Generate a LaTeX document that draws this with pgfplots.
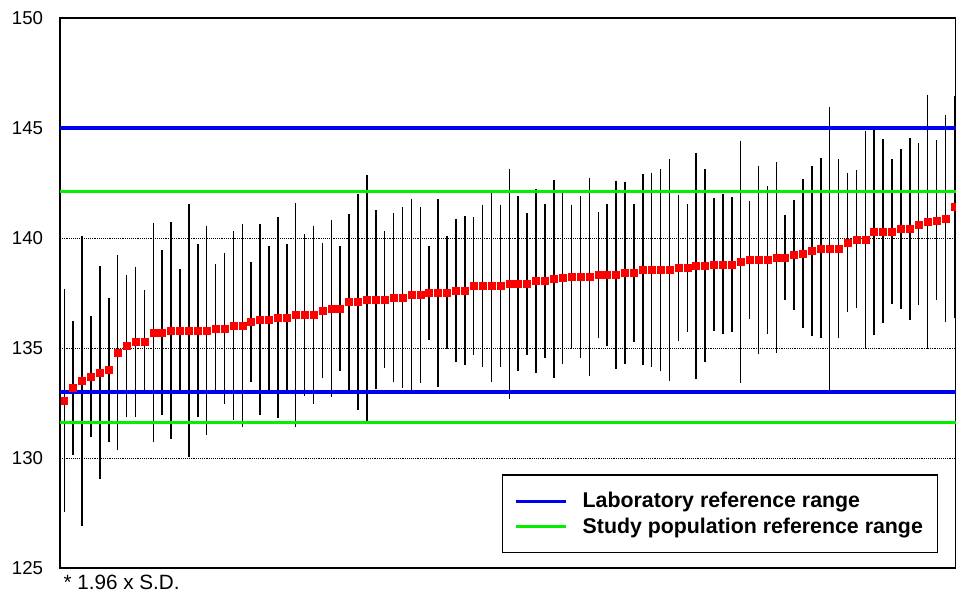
\documentclass[border=0pt]{standalone}
\usepackage{pgfplots}
\pgfplotsset{compat=1.18}
\usepackage{pgfplotstable}
\usepackage{fontspec}
\setmainfont{Liberation Sans}

\definecolor{refblue}{RGB}{0,0,235}
\definecolor{refgreen}{RGB}{0,240,0}
\definecolor{refred}{RGB}{255,0,0}

\pgfplotstableread{
x y err
1 132.62 4.99
2 133.18 2.96
3 133.50 6.50
4 133.70 2.67
5 133.88 4.76
6 134.00 3.20
7 134.79 4.36
8 135.09 3.16
9 135.29 3.32
10 135.29 2.27
11 135.70 4.91
12 135.70 3.65
13 135.79 4.85
14 135.79 2.73
15 135.79 5.67
16 135.79 3.86
17 135.79 4.65
18 135.88 2.85
19 135.88 3.35
20 136.02 4.20
21 136.02 4.51
22 136.20 2.64
23 136.29 4.26
24 136.29 3.26
25 136.38 4.47
26 136.38 3.26
27 136.50 5.00
28 136.50 3.60
29 136.50 3.95
30 136.70 2.99
31 136.80 3.95
32 136.80 2.76
33 137.09 3.90
34 137.09 4.81
35 137.20 5.58
36 137.20 3.99
37 137.20 3.02
38 137.30 3.75
39 137.30 4.02
40 137.42 4.29
41 137.42 3.91
42 137.50 2.04
43 137.50 4.17
44 137.52 2.50
45 137.62 3.16
46 137.62 3.30
47 137.82 3.06
48 137.82 3.60
49 137.82 4.28
50 137.82 3.60
51 137.92 5.15
52 137.92 3.90
53 137.92 3.15
54 138.05 4.08
55 138.05 3.41
56 138.14 4.40
57 138.21 3.87
58 138.23 3.20
59 138.23 3.60
60 138.23 4.40
61 138.32 2.76
62 138.32 3.15
63 138.32 4.20
64 138.41 4.05
65 138.41 3.05
66 138.55 4.26
67 138.55 4.31
68 138.55 4.50
69 138.55 4.96
70 138.64 3.25
71 138.64 2.81
72 138.73 5.06
73 138.73 4.30
74 138.80 2.95
75 138.80 3.10
76 138.80 3.00
77 138.91 5.40
78 139.00 2.61
79 139.00 4.20
80 139.00 3.30
81 139.10 4.25
82 139.10 1.84
83 139.23 2.41
84 139.30 3.30
85 139.41 3.80
86 139.53 4.00
87 139.53 6.34
88 139.53 3.97
89 139.80 3.06
90 139.94 3.05
91 139.94 4.85
92 140.30 4.64
93 140.30 4.10
94 140.30 3.20
95 140.42 3.55
96 140.42 4.05
97 140.62 3.60
98 140.73 5.70
99 140.80 3.55
100 140.89 4.62
101 141.42 4.96
}\datatable

\begin{document}
\begin{tikzpicture}
\begin{axis}[
  name=ax,
  scale only axis,
  width=672pt, height=412.5pt,
  xmin=0.517, xmax=101.19,
  ymin=125, ymax=150,
  ytick={125,130,135,140,145,150},
  xtick=\empty,
  ymajorgrids,
  grid style={black, densely dotted, line width=0.6pt},
  major tick length=0pt,
  axis line style={black, line width=1pt},
  tick label style={font=\fontsize{14}{16}\selectfont},
  yticklabel style={inner sep=0pt, xshift=-12.5pt},
  /pgf/number format/assume math mode=true,
  legend cell align=left,
  legend image code/.code={\draw[#1, line width=2.3pt] (0pt,0pt) -- (37.5pt,0pt);},
  legend style={at={(0.98,0.027)}, anchor=south east, draw=black, line width=0.8pt,
    font=\bfseries\fontsize{16}{18}\selectfont, inner xsep=9pt, inner ysep=11pt,
    row sep=2pt, column sep=9pt},
]
\addplot[forget plot, only marks, mark=square*, mark size=2.6pt, color=refred,
  error bars/.cd, y dir=both, y explicit,
  error bar style={black, line width=1.1pt},
  error mark options={black, mark size=1.4pt, line width=1.1pt}]
  table[x=x, y=y, y error=err]{\datatable};
\addplot[refblue, line width=2.4pt] coordinates {(0.517,133) (101.19,133)};
\addlegendentry{Laboratory reference range}
\addplot[refblue, line width=2.4pt, forget plot] coordinates {(0.517,145) (101.19,145)};
\addplot[refgreen, line width=2.3pt] coordinates {(0.517,131.6) (101.19,131.6)};
\addlegendentry{Study population reference range}
\addplot[refgreen, line width=2.3pt, forget plot] coordinates {(0.517,142.1) (101.19,142.1)};
\end{axis}
\node[anchor=north west, inner sep=0pt, font=\fontsize{15.5}{17}\selectfont]
  at ([shift={(2.5pt,-5pt)}]ax.south west) {* 1.96 x S.D.};
\pgfresetboundingbox
\path ([shift={(-45pt,-19.5pt)}]ax.south west) rectangle ([shift={(0pt,13.5pt)}]ax.north east);
\end{tikzpicture}
\end{document}
